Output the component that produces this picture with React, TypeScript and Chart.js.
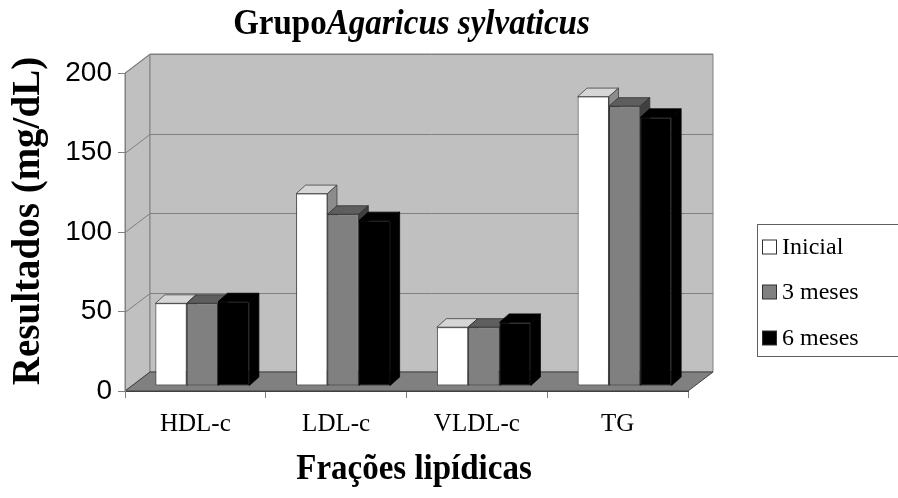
import React, { useEffect, useRef } from "react";
import { Chart, registerables } from "chart.js";

Chart.register(...registerables);

// ---- data ----
const categories = ["HDL-c", "LDL-c", "VLDL-c", "TG"];
const seriesNames = ["Inicial", "3 meses", "6 meses"];
const inicial = [52, 121, 37, 182];
const tresMeses = [52, 108, 37, 176];
const seisMeses = [53, 104, 40, 169];
const yTickStep = 50;
const yMin = 0;
const yMax = 200;
const titleUpright = "Grupo";
const titleItalic = "Agaricus sylvaticus";
const yTitle = "Resultados (mg/dL)";
const xTitle = "Frações lipídicas";

// ---- styles ----
const frontColors = ["#ffffff", "#808080", "#000000"];
const topColors = ["#d6d6d6", "#5e5e5e", "#000000"];
const sideColors = ["#8c8c8c", "#404040", "#000000"];
const outlineColors = ["#404040", "#303030", "#000000"];

const WALL_DX = 25;
const WALL_DY = -19;
const BAR_SHIFT_X = 7;
const BAR_SHIFT_Y = -5;
const BAR_DX = 9.5;
const BAR_DY = -8.5;

const SERIF = "'Liberation Serif', 'Times New Roman', serif";
const SANS = "'Liberation Sans', Arial, sans-serif";

function poly(ctx: CanvasRenderingContext2D, pts: number[][], fill: string, stroke: string, lw = 1) {
  ctx.beginPath();
  ctx.moveTo(pts[0][0], pts[0][1]);
  for (let k = 1; k < pts.length; k++) ctx.lineTo(pts[k][0], pts[k][1]);
  ctx.closePath();
  ctx.fillStyle = fill;
  ctx.fill();
  ctx.strokeStyle = stroke;
  ctx.lineWidth = lw;
  ctx.stroke();
}

const threeD = {
  id: "threeD",
  beforeDraw(chart: any) {
    const { ctx, chartArea: a } = chart;
    const ys = chart.scales.y;
    ctx.save();
    ctx.fillStyle = "#ffffff";
    ctx.fillRect(0, 0, chart.width, chart.height);
    // side wall
    poly(
      ctx,
      [
        [a.left, a.top],
        [a.left + WALL_DX, a.top + WALL_DY],
        [a.left + WALL_DX, a.bottom + WALL_DY],
        [a.left, a.bottom],
      ],
      "#c0c0c0",
      "#808080"
    );
    // back wall
    poly(
      ctx,
      [
        [a.left + WALL_DX, a.top + WALL_DY],
        [a.right + WALL_DX, a.top + WALL_DY],
        [a.right + WALL_DX, a.bottom + WALL_DY],
        [a.left + WALL_DX, a.bottom + WALL_DY],
      ],
      "#c0c0c0",
      "#808080"
    );
    // gridlines on walls
    ctx.strokeStyle = "#808080";
    ctx.lineWidth = 1;
    for (const t of ys.ticks) {
      const py = Math.round(ys.getPixelForValue(t.value)) + 0.5;
      ctx.beginPath();
      ctx.moveTo(a.left, py);
      ctx.lineTo(a.left + WALL_DX, py + WALL_DY);
      ctx.lineTo(a.right + WALL_DX, py + WALL_DY);
      ctx.stroke();
    }
    // floor
    poly(
      ctx,
      [
        [a.left, a.bottom],
        [a.right, a.bottom],
        [a.right + WALL_DX, a.bottom + WALL_DY],
        [a.left + WALL_DX, a.bottom + WALL_DY],
      ],
      "#808080",
      "#404040"
    );
    ctx.restore();
  },
  beforeDatasetsDraw(chart: any) {
    const ctx = chart.ctx as CanvasRenderingContext2D;
    const n = chart.data.labels.length;
    const nd = chart.data.datasets.length;
    ctx.save();
    for (let j = 0; j < n; j++) {
      for (let i = 0; i < nd; i++) {
        const el = chart.getDatasetMeta(i).data[j];
        const { x, y, base, width } = el.getProps(["x", "y", "base", "width"], true);
        const L = x - width / 2 + BAR_SHIFT_X;
        const R = x + width / 2 + BAR_SHIFT_X;
        const T = y + BAR_SHIFT_Y;
        const B = base + BAR_SHIFT_Y;
        poly(
          ctx,
          [
            [L, T],
            [R, T],
            [R + BAR_DX, T + BAR_DY],
            [L + BAR_DX, T + BAR_DY],
          ],
          topColors[i],
          outlineColors[i],
          0.8
        );
        poly(
          ctx,
          [
            [R, T],
            [R + BAR_DX, T + BAR_DY],
            [R + BAR_DX, B + BAR_DY],
            [R, B],
          ],
          sideColors[i],
          outlineColors[i],
          0.8
        );
      }
    }
    ctx.restore();
    ctx.save();
    ctx.translate(BAR_SHIFT_X, BAR_SHIFT_Y);
  },
  afterDatasetsDraw(chart: any) {
    chart.ctx.restore();
  },
  afterDraw(chart: any) {
    const ctx = chart.ctx as CanvasRenderingContext2D;
    ctx.save();
    ctx.fillStyle = "#000";
    // title (mixed upright / italic), slightly tall like the original
    const tSize = 33;
    ctx.save();
    ctx.translate(411.5, 34);
    ctx.scale(1, 1.08);
    ctx.font = `bold ${tSize}px ${SERIF}`;
    const w1 = ctx.measureText(titleUpright).width;
    ctx.font = `italic bold ${tSize}px ${SERIF}`;
    const w2 = ctx.measureText(titleItalic).width;
    const x0 = -(w1 + w2) / 2;
    ctx.textBaseline = "alphabetic";
    ctx.textAlign = "left";
    ctx.font = `bold ${tSize}px ${SERIF}`;
    ctx.fillText(titleUpright, x0, 0);
    ctx.font = `italic bold ${tSize}px ${SERIF}`;
    ctx.fillText(titleItalic, x0 + w1, 0);
    ctx.restore();

    // y title
    ctx.save();
    ctx.translate(29, 221);
    ctx.rotate(-Math.PI / 2);
    ctx.font = `bold 39px ${SERIF}`;
    ctx.textAlign = "center";
    ctx.textBaseline = "middle";
    ctx.fillText(yTitle, 0, 0);
    ctx.restore();

    // x title
    ctx.save();
    ctx.translate(414, 479);
    ctx.scale(1, 1.1);
    ctx.font = `bold 33px ${SERIF}`;
    ctx.textAlign = "center";
    ctx.textBaseline = "alphabetic";
    ctx.fillText(xTitle, 0, 0);
    ctx.restore();

    // legend
    const lx = 757.5;
    const ly = 224.5;
    ctx.strokeStyle = "#606060";
    ctx.lineWidth = 1;
    ctx.strokeRect(lx, ly, 160, 132);
    const rowY = [247, 292, 338];
    ctx.font = `24px ${SERIF}`;
    ctx.textAlign = "left";
    ctx.textBaseline = "middle";
    seriesNames.forEach((name, i) => {
      ctx.fillStyle = frontColors[i];
      ctx.fillRect(762.5, rowY[i] - 7, 14, 14);
      ctx.strokeStyle = "#303030";
      ctx.strokeRect(762.5, rowY[i] - 7, 14, 14);
      ctx.fillStyle = "#000";
      ctx.fillText(name, 782, rowY[i] + 1);
    });
    ctx.restore();
  },
};

export default function App() {
  const ref = useRef<HTMLCanvasElement | null>(null);
  useEffect(() => {
    document.body.style.margin = "0";
    const canvas = ref.current;
    if (!canvas) return;
    const series = [inicial, tresMeses, seisMeses];
    const chart = new Chart(canvas, {
      type: "bar",
      data: {
        labels: categories,
        datasets: series.map((d, i) => ({
          label: seriesNames[i],
          data: d,
          backgroundColor: frontColors[i],
          borderColor: outlineColors[i],
          borderWidth: 1,
          borderSkipped: false,
          categoryPercentage: 0.668,
          barPercentage: 1,
          clip: false as any,
        })),
      },
      options: {
        responsive: false,
        animation: false,
        devicePixelRatio: 1,
        layout: { padding: { top: 73, right: 210, left: 0, bottom: 0 } },
        plugins: {
          legend: { display: false },
          title: { display: false },
          tooltip: { enabled: false },
        },
        scales: {
          x: {
            grid: {
              display: true,
              drawOnChartArea: false,
              drawTicks: true,
              tickLength: 7,
              color: "#808080",
              offset: true,
            },
            border: { display: true, color: "#404040" },
            ticks: { font: { family: SERIF, size: 25 }, color: "#000", padding: 11, maxRotation: 0 },
            afterFit: (s: any) => {
              s.height = 107;
            },
          },
          y: {
            min: yMin,
            max: yMax,
            ticks: { stepSize: yTickStep, font: { family: SANS, size: 28 }, color: "#000", padding: 6 },
            grid: { drawOnChartArea: false, tickLength: 7, color: "#808080" },
            border: { display: true, color: "#808080" },
            afterFit: (s: any) => {
              s.width = 125;
            },
          },
        },
      },
      plugins: [threeD],
    });
    return () => chart.destroy();
  }, []);
  return <canvas ref={ref} width={898} height={498} style={{ display: "block" }} />;
}
